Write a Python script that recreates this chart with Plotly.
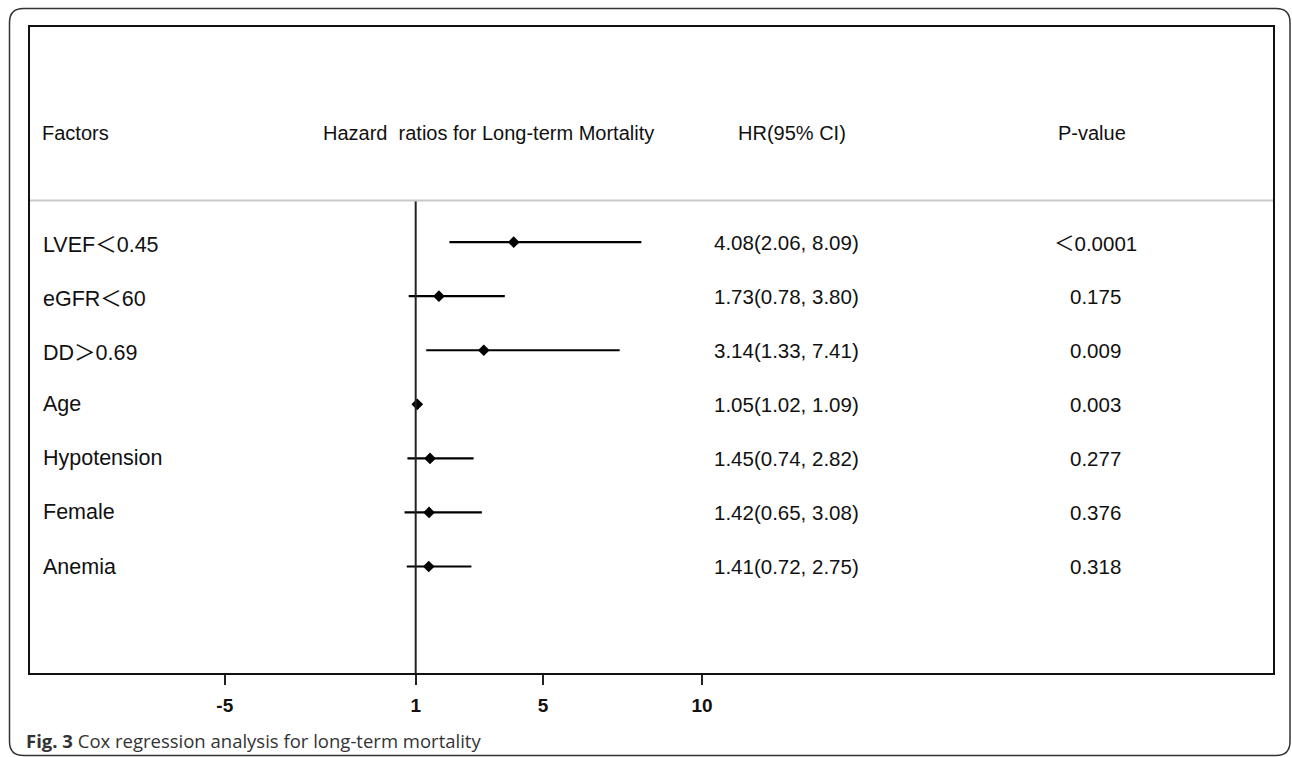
import plotly.graph_objects as go

# ---- data ----
factors = ["LVEF＜0.45", "eGFR＜60", "DD＞0.69", "Age", "Hypotension", "Female", "Anemia"]
hr = [4.08, 1.73, 3.14, 1.05, 1.45, 1.42, 1.41]
ci_low = [2.06, 0.78, 1.33, 1.02, 0.74, 0.65, 0.72]
ci_high = [8.09, 3.80, 7.41, 1.09, 2.82, 3.08, 2.75]
p_values = ["＜0.0001", "0.175", "0.009", "0.003", "0.277", "0.376", "0.318"]
tick_vals = [-5, 1, 5, 10]
tick_text = ["-5", "1", "5", "10"]
headers = ["Factors", "Hazard  ratios for Long-term Mortality", "HR(95% CI)", "P-value"]
caption_bold = "Fig. 3"
caption_text = " Cox regression analysis for long-term mortality"

rows = list(range(1, len(factors) + 1))

W, H = 1292, 757
L, R, T, B = 30, 19, 27, 84
PW, PH = W - L - R, H - T - B


def px(xp):
    return (xp - L) / PW


def py(yp):
    return (H - B - yp) / PH


def cjk(s):
    out = ""
    for ch in s:
        if ch in "＜＞":
            out += f"<span style='font-family:Noto Sans CJK SC'>{ch}</span>"
        else:
            out += ch
    return out


fig = go.Figure()

# whiskers
wx, wy = [], []
for lo, hi, r in zip(ci_low, ci_high, rows):
    wx += [lo, hi, None]
    wy += [r, r, None]
fig.add_trace(go.Scatter(x=wx, y=wy, mode="lines",
                         line=dict(color="black", width=2.2),
                         hoverinfo="skip", showlegend=False))
# points
fig.add_trace(go.Scatter(x=hr, y=rows, mode="markers",
                         marker=dict(symbol="diamond", size=9, color="black"),
                         showlegend=False))

# reference line at HR = 1 (below header separator)
fig.add_shape(type="line", xref="x", yref="paper", x0=1, x1=1, y0=0, y1=py(200.5),
              line=dict(color="#222", width=2))
# header separator
fig.add_shape(type="line", xref="paper", yref="paper", x0=0, x1=1,
              y0=py(200.5), y1=py(200.5), line=dict(color="#c8c8c8", width=2))

# outer rounded frame
x0, x1, y0, y1, rr = 9.5, 1290, 8.5, 755.5, 14
path = (f"M {px(x0 + rr)},{py(y0)} L {px(x1 - rr)},{py(y0)} "
        f"Q {px(x1)},{py(y0)} {px(x1)},{py(y0 + rr)} "
        f"L {px(x1)},{py(y1 - rr)} Q {px(x1)},{py(y1)} {px(x1 - rr)},{py(y1)} "
        f"L {px(x0 + rr)},{py(y1)} Q {px(x0)},{py(y1)} {px(x0)},{py(y1 - rr)} "
        f"L {px(x0)},{py(y0 + rr)} Q {px(x0)},{py(y0)} {px(x0 + rr)},{py(y0)} Z")
fig.add_shape(type="path", xref="paper", yref="paper", path=path,
              line=dict(color="#333", width=1.5), layer="above")

font_main = "Liberation Sans, Arial, sans-serif"
ann = []
# headers
hdr_pos = [(40, "left"), (488, "center"), (792, "center"), (1092, "center")]
for text, (xp, anc) in zip(headers, hdr_pos):
    ann.append(dict(x=px(xp), y=py(133), xref="paper", yref="paper", text=text,
                    showarrow=False, xanchor=anc, yanchor="middle",
                    font=dict(family=font_main, size=20, color="#111")))
# row texts
for f, h, lo, hi, p, r in zip(factors, hr, ci_low, ci_high, p_values, rows):
    ann.append(dict(x=px(41), y=r, xref="paper", yref="y", text=cjk(f), showarrow=False,
                    xanchor="left", yanchor="middle",
                    font=dict(family=font_main, size=21.5, color="#111")))
    ann.append(dict(x=px(787), y=r, xref="paper", yref="y",
                    text=f"{h:.2f}({lo:.2f}, {hi:.2f})", showarrow=False,
                    xanchor="center", yanchor="middle",
                    font=dict(family=font_main, size=20.5, color="#111")))
    ann.append(dict(x=px(1095), y=r, xref="paper", yref="y", text=cjk(p), showarrow=False,
                    xanchor="center", yanchor="middle",
                    font=dict(family=font_main, size=20.5, color="#111")))
# caption
ann.append(dict(x=px(24), y=py(740), xref="paper", yref="paper",
                text=f"<b>{caption_bold}</b>{caption_text}", showarrow=False,
                xanchor="left", yanchor="middle",
                font=dict(family="Open Sans, Noto Sans, sans-serif", size=18.5, color="#333")))

fig.update_layout(
    width=W, height=H,
    margin=dict(l=L, r=R, t=T, b=B),
    paper_bgcolor="white", plot_bgcolor="white",
    annotations=ann,
    showlegend=False,
)
fig.update_xaxes(range=[-11.12, 27.94], tickvals=tick_vals, ticktext=tick_text,
                 ticks="outside", ticklen=10, tickwidth=1.8, tickcolor="#222",
                 showgrid=False, zeroline=False,
                 showline=True, linecolor="#111", linewidth=2, mirror=True,
                 tickfont=dict(family=font_main, size=19, color="#111", weight="bold"),
                 ticklabelstandoff=4)
fig.update_yaxes(range=[8.97, -2.98], showticklabels=False, ticks="",
                 showgrid=False, zeroline=False,
                 showline=True, linecolor="#111", linewidth=2, mirror=True)

fig.write_html("out.html", config={"displayModeBar": False},
               post_script="document.body.style.margin='0px';")
